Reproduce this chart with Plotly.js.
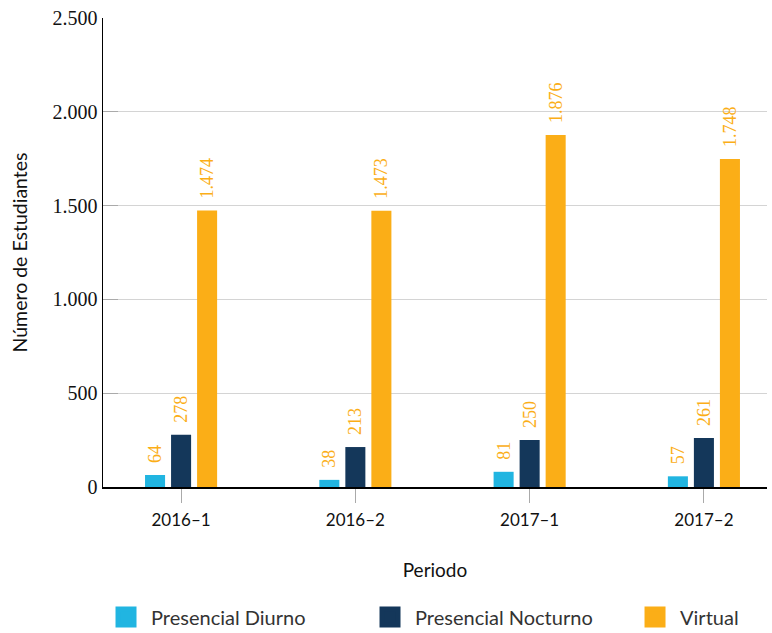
<!DOCTYPE html>
<html>
<head>
<meta charset="utf-8">
<script src="https://cdn.plot.ly/plotly-3.0.1.min.js"></script>
<style>html,body{margin:0;padding:0;background:#fff;}#chart{width:772px;height:633px;}</style>
</head>
<body>
<div id="chart"></div>
<script>
var periods = ['2016\u20131', '2016\u20132', '2017\u20131', '2017\u20132'];
var diurno = [64, 38, 81, 57];
var nocturno = [278, 213, 250, 261];
var virtual = [1474, 1473, 1876, 1748];
var seriesNames = ['Presencial Diurno', 'Presencial Nocturno', 'Virtual'];
var seriesColors = ['#21b5e1', '#14375a', '#fbae17'];
var seriesValues = [diurno, nocturno, virtual];

var serif = 'Liberation Serif, serif';
var sans = 'Lato, sans-serif';
var labelColor = '#fbae17';
var legendIds = ['legend', 'legend2', 'legend3'];
var legendX = [-0.003, 0.3946, 0.7937];

var traces = seriesValues.map(function (vals, i) {
  return {
    type: 'bar',
    x: periods,
    y: vals,
    name: seriesNames[i],
    marker: {color: seriesColors[i]},
    texttemplate: '\u00a0\u00a0%{y:,.0f}',
    textposition: 'outside',
    textangle: -90,
    constraintext: 'none',
    cliponaxis: false,
    textfont: {family: serif, size: 18, color: labelColor},
    showlegend: false,
    hoverinfo: 'x+y+name'
  };
});
seriesNames.forEach(function (n, i) {
  traces.push({
    type: 'scatter', mode: 'markers', x: [null], y: [null], name: n,
    legend: legendIds[i],
    marker: {symbol: 'square', size: 16, color: seriesColors[i], line: {color: seriesColors[i], width: 10}},
    showlegend: true
  });
});

var layout = {
  width: 772, height: 633,
  margin: {l: 103, r: 5, t: 18, b: 146},
  paper_bgcolor: '#fff', plot_bgcolor: '#fff',
  separators: ',.',
  barmode: 'group',
  bargap: 0.552,
  bargroupgap: 0.23,
  xaxis: {
    range: [-0.448, 3.362],
    showline: true, linecolor: '#000', linewidth: 1.5,
    ticks: 'outside', ticklen: 14, tickcolor: '#aaa',
    ticklabelstandoff: 3,
    tickfont: {family: sans, size: 17, color: '#111'},
    title: {text: 'Periodo', font: {family: sans, size: 19, color: '#111'}, standoff: 35},
    showgrid: false, zeroline: false
  },
  yaxis: {
    range: [0, 2500], dtick: 500, tickformat: ',d',
    showline: true, linecolor: '#000', linewidth: 1.5,
    ticks: 'inside', ticklen: 15, tickcolor: '#aaa',
    showgrid: true, gridcolor: '#d4d4d4', gridwidth: 1,
    zeroline: false,
    tickfont: {family: serif, size: 20, color: '#111'},
    title: {text: 'Número de Estudiantes', font: {family: sans, size: 19.5, color: '#111'}, standoff: 19}
  },
  showlegend: true
};
legendIds.forEach(function (id, i) {
  layout[id] = {
    orientation: 'h', x: legendX[i], xanchor: 'left',
    yref: 'container', y: 0.0253, yanchor: 'middle',
    font: {family: sans, size: 20, color: '#333'},
    itemwidth: 40, bgcolor: 'rgba(0,0,0,0)'
  };
});

Plotly.newPlot('chart', traces, layout, {displayModeBar: false, staticPlot: true});
</script>
</body>
</html>
